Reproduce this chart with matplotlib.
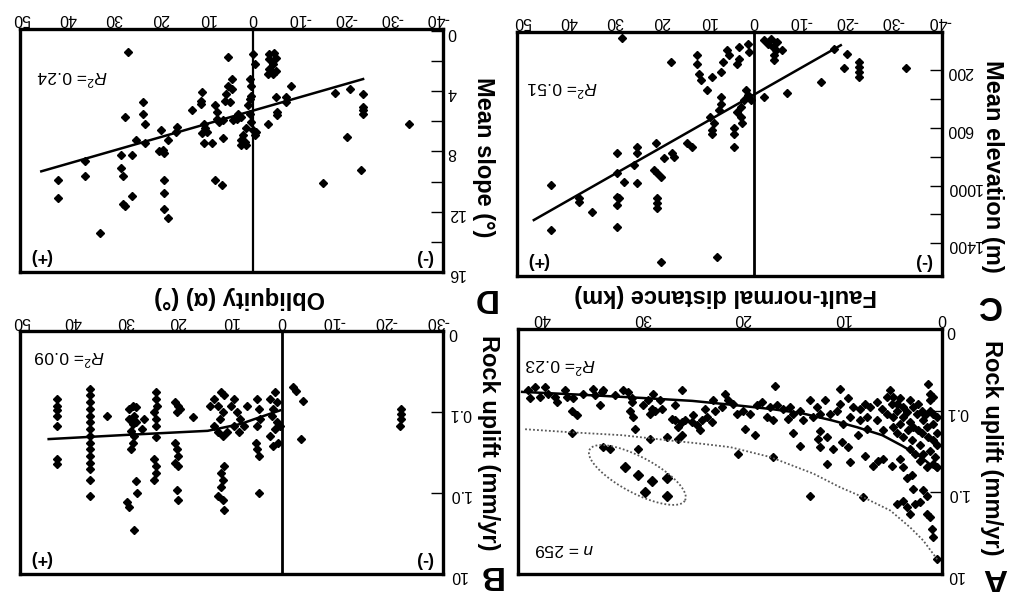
import numpy as np
import matplotlib

matplotlib.use("Agg")
import matplotlib.pyplot as plt
from matplotlib.ticker import FixedLocator, NullLocator

plt.rcParams["font.family"] = ["Liberation Sans", "DejaVu Sans"]
plt.rcParams["axes.unicode_minus"] = False
plt.rcParams["mathtext.fontset"] = "custom"
plt.rcParams["mathtext.rm"] = "Liberation Sans"
plt.rcParams["mathtext.it"] = "Liberation Sans:italic"

# --- Panel A: rock uplift vs fault-normal distance (n = 259) ---
a_dist = [
    41.4, 41.2, 40.7, 39.7, 39.4, 38.7, 38.5, 37.7, 36.9, 37.0, 36.5, 34.9, 34.7,
    34.0, 34.2, 33.9, 32.7, 31.9, 31.4, 31.0, 31.2, 30.9, 31.0, 29.9, 29.4, 29.0,
    29.2, 28.7, 28.0, 26.7, 26.0, 27.0, 26.7, 26.4, 26.0, 25.7, 25.0, 24.5, 24.2,
    24.0, 23.7, 23.0, 22.7, 22.0, 21.7, 21.4, 30.7, 29.2, 27.5, 26.4, 26.0, 37.0,
    33.9, 33.2, 30.4,
    16.7, 10.2, 1.4, 1.2, 1.2, 5.2, 4.9, 4.2, 3.2, 13.2, 11.7, 18.0, 17.2, 16.5,
    15.9, 15.2, 19.9, 20.5, 19.2, 17.5, 16.9, 15.4, 13.9, 12.9, 12.2, 11.2, 10.5,
    10.2, 9.4, 8.9, 8.2, 7.7, 7.2, 6.5, 6.0, 5.5, 4.9, 4.5, 3.9, 3.2, 2.5, 1.9,
    1.5, 0.9, 0.5, 1.2, 4.9, 4.5, 3.9, 3.0, 2.2, 1.9, 1.2, 0.7, 0.5, 0.9, 19.7,
    18.7, 14.9, 14.2, 12.2, 12.4, 12.2, 11.5, 10.9, 10.0, 9.4, 11.5, 9.2, 8.4,
    7.7, 6.9, 6.4, 5.9, 5.0, 4.2, 3.9, 3.5, 3.0, 2.9, 1.9, 1.5, 4.5, 3.9, 3.5,
    3.2, 2.7, 2.2, 1.5, 1.2, 1.0, 0.9, 0.5, 13.2, 7.9, 16.9, 20.4,
    5.5, 5.0, 4.5, 3.9, 3.5, 2.9, 2.4, 2.0, 1.7, 0.9, 0.5, 0.9, 2.9, 2.4, 2.0,
    1.4, 0.5, 3.4, 4.2, 0.9, 1.5, 2.2, 2.7, 3.2, 5.9, 6.5, 7.5, 8.2, 9.2, 9.9,
    7.5, 12.5, 14.2, 14.9, 18.5, 20.9, 22.9, 23.5, 24.9, 28.2, 28.9, 35.9, 37.5,
    40.2,
]
a_uplift = [
    0.056, 0.071, 0.051, 0.051, 0.062, 0.068, 0.078, 0.056, 0.071, 0.100, 0.114,
    0.054, 0.065, 0.059, 0.086, 0.056, 0.065, 0.056, 0.059, 0.071, 0.100, 0.120,
    0.078, 0.086, 0.075, 0.095, 0.109, 0.100, 0.095, 0.086, 0.056, 0.126, 0.132,
    0.159, 0.138, 0.132, 0.138, 0.152, 0.175, 0.132, 0.095, 0.138, 0.100, 0.091,
    0.062, 0.075, 0.167, 0.22, 0.21, 0.22, 0.20, 0.19, 0.28, 0.295, 0.295,
    0.050, 0.055, 0.047, 0.062, 0.075, 0.056, 0.068, 0.071, 0.075, 0.075, 0.075,
    0.078, 0.091, 0.086, 0.095, 0.091, 0.100, 0.109, 0.109, 0.120, 0.132, 0.126,
    0.132, 0.120, 0.109, 0.109, 0.100, 0.082, 0.071, 0.091, 0.095, 0.082, 0.091,
    0.078, 0.095, 0.109, 0.120, 0.100, 0.120, 0.138, 0.109, 0.132, 0.159, 0.145,
    0.19, 0.100, 0.159, 0.19, 0.21, 0.23, 0.26, 0.34, 0.31, 0.37, 0.49, 0.23,
    0.167, 0.20, 0.19, 0.27, 0.18, 0.22, 0.28, 0.21, 0.295, 0.245, 0.28, 0.45,
    0.43, 0.20, 0.355, 0.47, 0.41, 0.39, 0.47, 0.39, 0.49, 0.66, 0.62, 0.91,
    0.95, 1.10, 1.38, 1.26, 1.52, 1.84, 1.38, 1.32, 1.84, 2.0, 2.8, 3.5, 6.6,
    1.10, 1.15, 0.37, 0.34,
    0.068, 0.082, 0.082, 0.091, 0.104, 0.091, 0.082, 0.100, 0.114, 0.109, 0.120,
    0.068, 0.159, 0.175, 0.19, 0.21, 0.26, 0.175, 0.145, 0.45, 0.49, 0.41, 0.34,
    0.295, 0.175, 0.132, 0.120, 0.132, 0.120, 0.145, 0.167, 0.091, 0.100, 0.109,
    0.086, 0.082, 0.075, 0.120, 0.114, 0.075, 0.062, 0.062, 0.068, 0.068,
]
# circled group of sites
a_circled_dist = [31.7, 30.4, 29.0, 27.5, 29.7, 27.5]
a_circled_uplift = [0.49, 0.62, 0.72, 0.66, 1.0, 1.10]
# solid fit and dotted envelope
a_fit_dist = [42, 36, 30, 25, 21, 17, 14, 11, 8.5, 6, 4, 2, 0.5]
a_fit_uplift = [0.059, 0.064, 0.070, 0.076, 0.085, 0.096, 0.108, 0.132, 0.16,
                0.20, 0.27, 0.38, 0.54]
a_env_dist = [41.7, 37.2, 32, 27.5, 24, 21.2, 17.2, 12.9, 10.2, 7.9, 5.2, 3.2,
              1.9, 0.9, 0.4]
a_env_uplift = [0.169, 0.184, 0.20, 0.23, 0.255, 0.28, 0.37, 0.59, 0.87, 1.15,
                1.67, 2.7, 3.9, 5.7, 6.9]

# --- Panel B: rock uplift vs obliquity ---
b_obl = [
    43.1, 43.1, 43.1, 43.1, 43.1, 43.1, 43.1,
    36.8, 36.8, 36.8, 36.8, 36.8, 36.8, 36.8, 36.8, 36.8, 36.8, 36.8, 36.8, 36.8,
    36.8, 36.8, 33.6,
    29.2, 28.6, 28.0, 28.3, 29.2, 28.6, 28.0, 28.9, 28.3, 28.6, 28.9, 28.0, 27.7,
    29.6, 29.2, 28.3, 26.4, 26.7,
    24.2, 24.2, 23.9, 24.5, 24.2, 24.1, 24.2, 24.5, 24.2, 24.2, 24.5,
    20.4, 19.8, 20.1, 19.5, 20.4, 20.1, 19.8, 20.4, 19.8, 20.1, 19.8, 17.0,
    13.8, 12.9, 12.3, 11.6, 11.0, 11.3, 11.9, 12.9, 12.3, 11.3, 10.4, 11.0, 11.6,
    11.3, 11.6, 12.3, 11.3, 11.0,
    9.7, 9.1, 8.5, 7.9, 7.2, 6.6, 9.1, 8.2,
    4.7, 4.4, 4.1, 4.7, 5.0, 4.7, 4.4, 4.4,
    2.2, 1.3, 0.9, 1.6, 1.9, 0.9, 1.3, 2.2, 0.6, 1.6, 0.3,
    -2.2, -2.8, -4.1, -3.8, -23.0, -23.0, -23.0, -22.8,
]
b_uplift = [
    0.068, 0.083, 0.095, 0.110, 0.147, 0.38, 0.44,
    0.051, 0.062, 0.075, 0.091, 0.110, 0.133, 0.16, 0.195, 0.237, 0.287, 0.35,
    0.42, 0.51, 0.68, 1.1, 0.110,
    0.091, 0.083, 0.087, 0.110, 0.121, 0.140, 0.133, 0.17, 0.195, 0.237, 0.287,
    0.71, 1.0, 1.29, 1.47, 2.87, 0.121, 0.16,
    0.056, 0.068, 0.083, 0.100, 0.121, 0.147, 0.205, 0.38, 0.46, 0.56, 0.68,
    0.075, 0.083, 0.100, 0.091, 0.237, 0.287, 0.35, 0.42, 0.46, 0.91, 1.21, 0.115,
    0.083, 0.068, 0.083, 0.056, 0.062, 0.100, 0.121, 0.147, 0.178, 0.195, 0.178,
    0.46, 0.56, 0.68, 0.83, 1.1, 1.21, 1.62,
    0.083, 0.068, 0.100, 0.121, 0.147, 0.083, 0.147, 0.178,
    0.068, 0.091, 0.121, 0.147, 0.237, 0.287, 0.35, 1.0,
    0.068, 0.056, 0.075, 0.091, 0.110, 0.133, 0.16, 0.195, 0.237, 0.26, 0.147,
    0.049, 0.054, 0.072, 0.215, 0.091, 0.105, 0.121, 0.147,
]
b_fit_obl = [44.7, 29.2, 14.2, 7.9, 4.1, 0.3]
b_fit_uplift = [0.215, 0.19, 0.17, 0.14, 0.115, 0.095]

# --- Panel C: mean elevation vs fault-normal distance ---
c_dist = [
    28.4, 1.4, 1.1, -2.2, -2.9, -3.6, -4.0, -4.7, -5.0, -6.1, -4.3, -4.3, 5.8,
    5.4, 3.2, 3.2, 3.6, 6.8, 7.2, 9.0, 12.2, 12.2, 11.9, 11.5, 10.1, 18.0, 1.8,
    1.4, 0.7, 2.2, 2.9, 3.6, 2.9, 2.5, 4.3, 4.3, 4.3, 7.2, 7.2, 7.6, 9.4, 8.6,
    9.0, 9.0, -2.2, -7.2, -14.4, -19.4, -20.1, -17.3, -22.7, -22.7, -22.7, -22.7,
    -32.7, 14.4, 13.3, 17.6, 17.3, 19.4, 21.2, 21.6, 20.9, 20.1, 25.2, 25.2,
    25.9, 25.2, 29.5, 29.5, 28.1, 29.5, 29.1, 29.5, 20.9, 20.9, 20.9, 29.5,
    34.9, 37.8, 37.8, 43.9, 43.9, 20.1, 7.9,
]
c_elev = [
    -26, 15, 73, -8, 15, -19, 38, 62, 4, 62, 96, 131, 62, 96, 38, 119, 154, 142,
    212, 246, 96, 154, 223, 269, 338, 142, 338, 373, 408, 408, 454, 489, 523,
    569, 604, 639, 731, 385, 431, 477, 523, 569, 615, 639, 385, 357, 281, 188,
    85, 50, 142, 177, 212, 246, 188, 708, 731, 777, 800, 812, 708, 892, 915, 939,
    731, 777, 858, 985, 777, 915, 973, 1077, 1089, 1135, 1089, 1123, 1158, 1285,
    1181, 1089, 1112, 996, 1308, 1527, 1492,
]
c_fit_dist = [47.5, -18.7]
c_fit_elev = [1239, 27]

# --- Panel D: mean slope vs obliquity ---
d_obl = [
    27.0, 5.3, 0.0, -0.4, 0.7, 0.4, 0.4, 0.7, 1.1, 0.7, 0.4, 0.0, -0.4, -0.7,
    1.4, 2.1, 2.5, 1.8, 2.5, 1.4, 3.5, 3.2, 2.5, -3.5, -4.6, -5.0, -3.5, -4.3,
    -3.5, -5.0, -4.3, -3.2, -8.2, -17.7, -20.9, -23.8, -23.8, -23.8, -23.8,
    -5.0, -7.1, -7.1, -5.3, -5.3, -3.2, -33.7, -20.4, -23.4, -15.2, 4.6, 4.6,
    5.3, 5.7, 6.0, 5.0, 8.2, 7.8, 7.8, 6.4, 7.4, 4.3, 11.0, 11.3, 11.3, 13.1,
    10.6, 10.3, 9.9, 11.0, 10.6, 8.9, 6.4, 8.2, 6.7, 16.3, 16.7, 18.4, 19.9,
    19.5, 19.1, 20.2, 23.8, 23.8, 23.4, 25.2, 23.4, 27.7, 26.2, 28.4, 28.4,
    28.0, 26.2, 27.7, 28.0, 36.2, 36.2, 42.2, 42.2, 33.0, 19.1, 19.1, 19.1, 18.4,
]
d_slope = [
    1.38, 1.71, 1.54, 2.19, 3.18, 3.62, 4.28, 4.50, 4.93, 5.48, 6.03, 6.58, 6.91,
    6.69, 6.47, 6.91, 7.24, 7.35, 7.57, 7.57, 5.81, 5.48, 5.70, 1.54, 1.43, 1.75,
    1.86, 2.19, 2.52, 2.63, 2.85, 2.85, 3.66, 4.10, 3.84, 4.17, 5.04, 5.26, 5.48,
    4.39, 4.39, 4.71, 5.37, 5.59, 6.14, 6.14, 7.02, 9.21, 10.09, 3.18, 3.84,
    3.62, 4.17, 4.61, 4.71, 4.93, 5.37, 5.81, 5.92, 6.03, 5.92, 4.06, 4.61, 4.82,
    5.26, 6.14, 6.47, 6.69, 6.80, 7.46, 7.46, 7.13, 9.87, 10.20, 6.36, 6.69,
    7.24, 6.58, 7.89, 8.11, 8.00, 4.71, 5.48, 6.14, 7.24, 7.46, 5.70, 8.22,
    8.22, 9.10, 9.65, 10.96, 11.62, 11.51, 8.66, 9.65, 9.87, 11.07, 13.44, 9.87,
    10.75, 11.84, 12.43,
]
d_fit_obl = [45.7, -23.8]
d_fit_slope = [9.32, 3.18]

uplift_ticks = [0.01, 0.1, 1, 10]
uplift_labels = ["0", "0.1", "1.0", "10"]

# The scanned page is upside down: every axis runs reversed and all text is turned 180°.
FLIP = 180
TICK_FS = 11.5
LABEL_FS = 17


def setup(ax, xlim, ylim, xticks, ypad=3):
    ax.set_xlim(xlim)
    ax.set_ylim(ylim)
    ax.xaxis.tick_top()
    ax.yaxis.tick_right()
    ax.xaxis.set_label_position("top")
    ax.yaxis.set_label_position("right")
    ax.xaxis.set_major_locator(FixedLocator(xticks))
    ax.tick_params(axis="x", length=0, pad=2, labelsize=TICK_FS, labelrotation=FLIP)
    ax.tick_params(axis="y", which="both", direction="in", length=9, width=1,
                   pad=ypad, labelsize=TICK_FS, labelrotation=FLIP)
    for spine in ax.spines.values():
        spine.set_linewidth(2.4)


def r2(ax, txt, fx, fy):
    ax.text(fx, fy, txt, transform=ax.transAxes, rotation=FLIP, fontsize=12.5,
            ha="center", va="center")


def signs(ax):
    ax.text(0.05, 0.065, "(+)", transform=ax.transAxes, rotation=FLIP,
            fontsize=13, fontweight="bold", ha="center", va="center")
    ax.text(0.956, 0.06, "(-)", transform=ax.transAxes, rotation=FLIP,
            fontsize=13, fontweight="bold", ha="center", va="center")


fig = plt.figure(figsize=(10.1, 5.92), dpi=100)

ax_a = fig.add_axes([0.513, 0.0304, 0.420, 0.414])
ax_b = fig.add_axes([0.0198, 0.0304, 0.419, 0.410])
ax_c = fig.add_axes([0.512, 0.534, 0.421, 0.412])
ax_d = fig.add_axes([0.0198, 0.5405, 0.419, 0.4105])

mk = dict(linestyle="none", marker="D", color="black", markersize=4.4)

# Panel A
ax_a.set_yscale("log")
setup(ax_a, (42.4, 0), (10, 0.01), [0, 10, 20, 30, 40])
ax_a.yaxis.set_major_locator(FixedLocator(uplift_ticks))
ax_a.yaxis.set_minor_locator(NullLocator())
ax_a.set_yticklabels(uplift_labels)
ax_a.plot(a_dist, a_uplift, **mk)
ax_a.plot(a_circled_dist, a_circled_uplift, linestyle="none", marker="D",
          color="black", markersize=5.5)
ax_a.plot(a_fit_dist, a_fit_uplift, color="black", lw=1.8)
ax_a.plot(a_env_dist, a_env_uplift, color="0.35", lw=1.3, linestyle=(0, (1, 1.2)))
t = np.linspace(0, 2 * np.pi, 200)
th = np.deg2rad(-28)
ex = 0.281 + (54 * np.cos(t) * np.cos(th) - 18 * np.sin(t) * np.sin(th)) / 424
ey = 0.404 + (54 * np.cos(t) * np.sin(th) + 18 * np.sin(t) * np.cos(th)) / 245
ax_a.plot(ex, ey, transform=ax_a.transAxes, color="0.35", lw=1.3,
          linestyle=(0, (1, 1.2)))
r2(ax_a, "$R^2$= 0.23", 0.10, 0.85)
ax_a.text(0.11, 0.10, "$n$ = 259", transform=ax_a.transAxes, rotation=FLIP,
          fontsize=12.5, ha="center", va="center")
ax_a.set_xlabel("Fault-normal distance (km)", rotation=FLIP, fontsize=LABEL_FS,
                fontweight="bold", va="center")
ax_a.xaxis.set_label_coords(0.49, 1.135)
ax_a.set_ylabel("Rock uplift (mm/yr)", rotation=270, fontsize=LABEL_FS,
                fontweight="bold", va="center")
ax_a.yaxis.set_label_coords(1.116, 0.515)

# Panel B
ax_b.set_yscale("log")
setup(ax_b, (50.2, -31.0), (10, 0.01), [-30, -20, -10, 0, 10, 20, 30, 40, 50],
      ypad=4)
ax_b.yaxis.set_major_locator(FixedLocator(uplift_ticks))
ax_b.yaxis.set_minor_locator(NullLocator())
ax_b.set_yticklabels(uplift_labels)
ax_b.axvline(0, color="black", lw=2)
ax_b.plot(b_obl, b_uplift, **mk)
ax_b.plot(b_fit_obl, b_fit_uplift, color="black", lw=1.8)
r2(ax_b, "$R^2$= 0.09", 0.116, 0.89)
signs(ax_b)
ax_b.set_xlabel("Obliquity (α) (°)", rotation=FLIP, fontsize=LABEL_FS,
                fontweight="bold", va="center")
ax_b.xaxis.set_label_coords(0.52, 1.14)
ax_b.set_ylabel("Rock uplift (mm/yr)", rotation=270, fontsize=LABEL_FS,
                fontweight="bold", va="center")
ax_b.yaxis.set_label_coords(1.106, 0.54)

# Panel C
setup(ax_c, (51.1, -40.6), (1626, -65), [-40, -30, -20, -10, 0, 10, 20, 30, 40, 50])
ax_c.yaxis.set_major_locator(FixedLocator([200, 600, 1000, 1400]))
ax_c.yaxis.set_minor_locator(FixedLocator([400, 800, 1200]))
ax_c.axvline(0, color="black", lw=2)
ax_c.plot(c_dist, c_elev, **mk)
ax_c.plot(c_fit_dist, c_fit_elev, color="black", lw=1.8)
r2(ax_c, "$R^2$= 0.51", 0.106, 0.77)
signs(ax_c)
ax_c.set_ylabel("Mean elevation (m)", rotation=270, fontsize=LABEL_FS,
                fontweight="bold", va="center")
ax_c.yaxis.set_label_coords(1.118, 0.45)

# Panel D
setup(ax_d, (50.3, -41.1), (16.02, -0.15), [-40, -30, -20, -10, 0, 10, 20, 30, 40, 50])
ax_d.yaxis.set_major_locator(FixedLocator([0, 4, 8, 12, 16]))
ax_d.yaxis.set_minor_locator(FixedLocator([2, 6, 10, 14]))
ax_d.axvline(0, color="black", lw=1.6)
ax_d.plot(d_obl, d_slope, **mk)
ax_d.plot(d_fit_obl, d_fit_slope, color="black", lw=1.8)
r2(ax_d, "$R^2$= 0.24", 0.123, 0.80)
signs(ax_d)
ax_d.set_ylabel("Mean slope (°)", rotation=270, fontsize=LABEL_FS,
                fontweight="bold", va="center")
ax_d.yaxis.set_label_coords(1.095, 0.473)

# panel letters
for letter, fx, fy in [("A", 0.985, 0.025), ("B", 0.485, 0.030),
                       ("C", 0.979, 0.486), ("D", 0.479, 0.498)]:
    fig.text(fx, fy, letter, rotation=FLIP, fontsize=24, fontweight="bold",
             ha="center", va="center")

fig.savefig("out.png", dpi=100)
